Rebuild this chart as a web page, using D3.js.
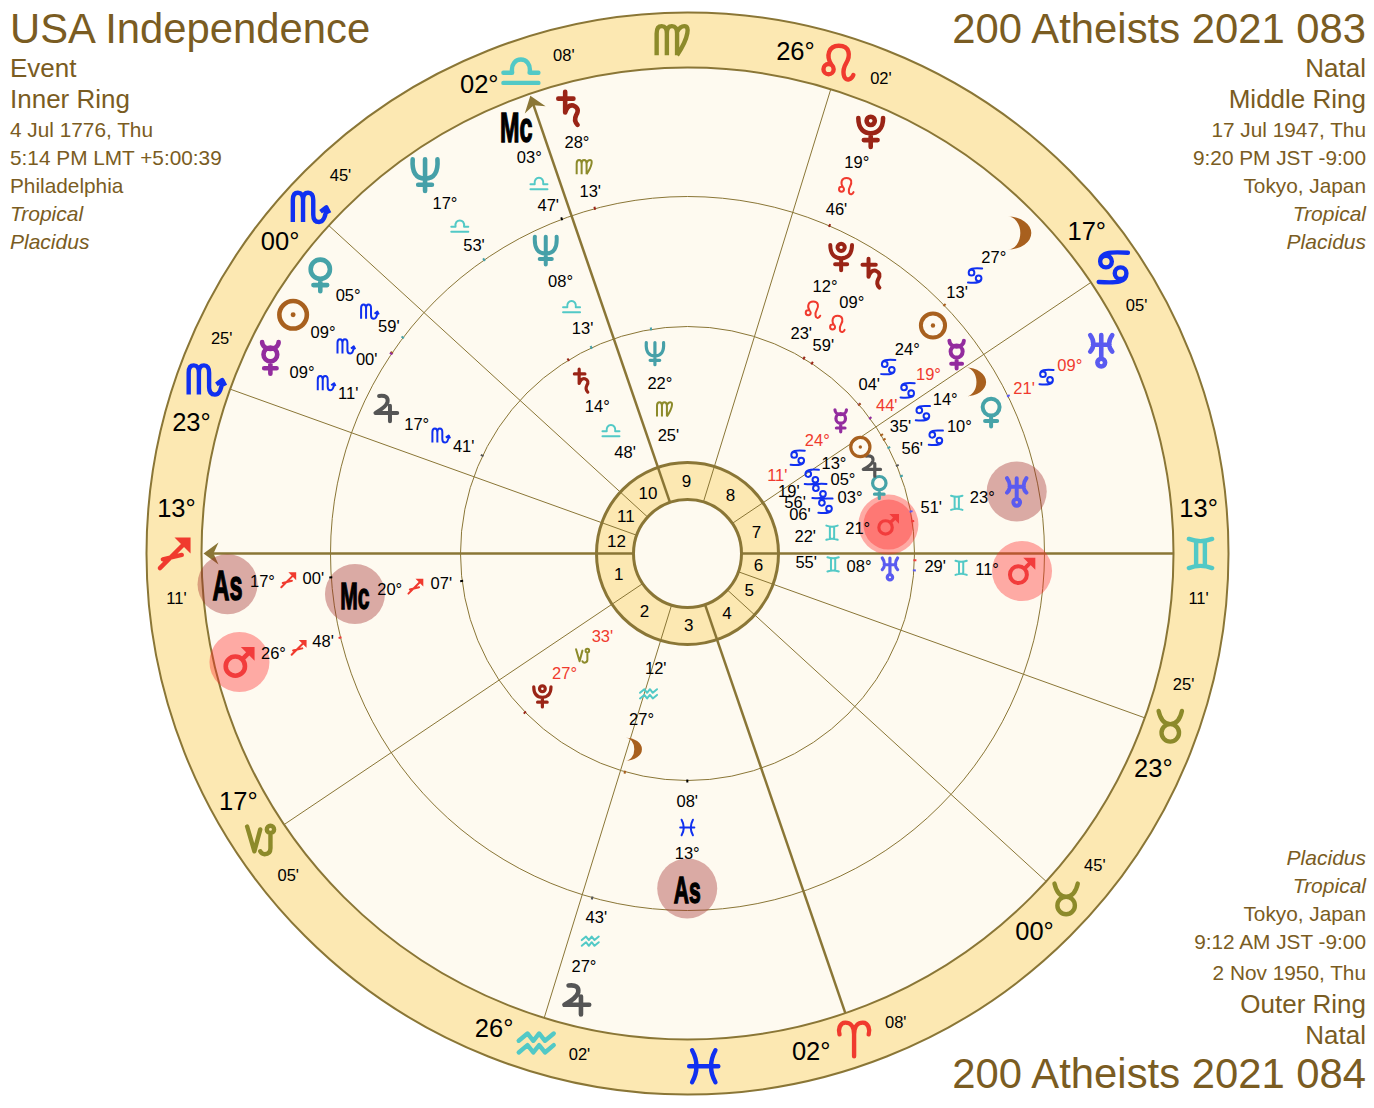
<!DOCTYPE html>
<html>
<head>
<meta charset="utf-8">
<script src="https://cdnjs.cloudflare.com/ajax/libs/d3/7.8.5/d3.min.js"></script>
<style>
  html, body { margin: 0; background: #fff; }
  text { font-family: "Liberation Sans", Arial, sans-serif; }
</style>
</head>
<body>
<div id="chart"></div>
<script>
const signNames = ["aries","taurus","gemini","cancer","leo","virgo","libra","scorpio","sagittarius","capricorn","aquarius","pisces"]

// house cusps 1..12
const cuspSigns = ["sagittarius","capricorn","aquarius","aries","taurus","taurus","gemini","cancer","leo","libra","scorpio","scorpio"]
const cuspDegrees = [13,17,26,2,0,23,13,17,26,2,0,23]
const cuspMinutes = [11,5,2,8,45,25,11,5,2,8,45,25]
const interceptedSigns = ["virgo","pisces"]

// inner ring - USA Independence
const innerBodies = ["mars","uranus","venus","jupiter","sun","mercury","neptune","saturn","pluto","moon"]
const innerSigns = ["gemini","gemini","cancer","cancer","cancer","cancer","virgo","libra","capricorn","aquarius"]
const innerDegrees = [21,8,3,5,13,24,22,14,27,27]
const innerMinutes = [22,55,6,56,19,11,25,48,33,12]
const innerRetro = ["mercury","pluto"]
const innerLit = ["mars"]

// middle ring - 083
const middleBodies = ["sun","mercury","moon","venus","uranus","mars","pluto","saturn","neptune","jupiter","Mc","As"]
const middleSigns = ["cancer","cancer","cancer","cancer","gemini","gemini","leo","leo","libra","scorpio","sagittarius","pisces"]
const middleDegrees = [24,19,14,10,23,11,12,9,8,17,20,13]
const middleMinutes = [4,44,35,56,51,29,23,59,13,41,7,8]
const middleRetro = ["mercury"]
const middleLit = ["uranus","mars","Mc","As"]

// outer ring - 084
const outerBodies = ["uranus","moon","pluto","saturn","Mc","neptune","venus","sun","mercury","As","mars","jupiter"]
const outerSigns = ["cancer","cancer","leo","virgo","libra","libra","scorpio","scorpio","scorpio","sagittarius","sagittarius","aquarius"]
const outerDegrees = [9,27,19,28,3,17,5,9,9,17,26,27]
const outerMinutes = [21,13,46,13,47,53,59,0,11,0,48,43]
const outerRetro = ["uranus"]
const outerLit = ["As","mars"]

const WIDTH = 1374, HEIGHT = 1108
const CX = 687.5, CY = 553.5
const INK = "#8a7636", BAND = "#fce8b2", PAPER = "#fefaf0", HEAD = "#7a5c22"
const RED = "#f03a2e"

// glyph pushes (degrees) so crowded bodies don't overlap
const innerPush = {venus:-0.8, jupiter:2.6, sun:1.5, moon:0.5}
const middlePush = {sun:2, moon:-0.6, venus:-2.75, mars:-1.3, pluto:3.5}
const outerPush = {Mc:1.2, sun:3, mercury:8.8, jupiter:1.4}

const rings = [
    {bodies:innerBodies, signs:innerSigns, degs:innerDegrees, mins:innerMinutes, retro:innerRetro, lit:innerLit, push:innerPush,
     tick:227, glyph:203, deg:172, sign:146, min:119, size:23, sw:3.2, label:27},
    {bodies:middleBodies, signs:middleSigns, degs:middleDegrees, mins:middleMinutes, retro:middleRetro, lit:middleLit, push:middlePush,
     tick:227, glyph:335, deg:300, sign:274, min:248, size:29, sw:4, label:27},
    {bodies:outerBodies, signs:outerSigns, degs:outerDegrees, mins:outerMinutes, retro:outerRetro, lit:outerLit, push:outerPush,
     tick:357, glyph:461, deg:426, sign:400, min:375, size:33, sw:4.6, label:30}
]

const signColor = s => {
    const i = signNames.indexOf(s) % 4
    return [RED, "#8c8a2a", "#52c9c6", "#1030f0"][i]
}
const bodyColor = {sun:"#a8601e", moon:"#a8601e", mercury:"#932c9e", venus:"#46a3a8", mars:"#f23c3c",
    jupiter:"#555555", saturn:"#9a2416", uranus:"#5a5af0", neptune:"#46a0a8", pluto:"#9a2416", Mc:"#000", As:"#000"}

const ring = (x, y, r) => `M${x-r} ${y}A${r} ${r} 0 1 0 ${x+r} ${y}A${r} ${r} 0 1 0 ${x-r} ${y}Z`

// stroked outlines in a 24x24 box, f = filled part
const glyphs = {
    sun: {s:ring(0,0,10), f:ring(0,0,1.8)},
    moon: {f:"M-8 -12A17 12 0 0 1 -8 12A9 12 0 0 0 -8 -12Z"},
    mercury: {s:ring(0,-2,5)+"M0 3V12M-4.5 8H4.5M-6 -11A6 5 0 0 0 6 -11"},
    venus: {s:ring(0,-4,7)+"M0 3V12M-5 7.5H5"},
    mars: {s:ring(-3,3,7)+"M2 -2L8 -8", f:"M1 -11H11V-1Z"},
    jupiter: {s:"M-5 -11Q3 -12 2 -6Q1 -2 -8 3H10M4 -3V10"},
    saturn: {s:"M-7 -7H4M-2 -12V3Q0 -3 4 -2Q9 0 6 5Q4 9 7 12"},
    uranus: {s:"M0 -11V6M-8 -11C-5 -7 -5 -2 -8 1M8 -11C5 -7 5 -2 8 1M-6 -4H6"+ring(0,9,2.8)},
    neptune: {s:"M-9 -11Q-10 3 0 3Q10 3 9 -11M0 -11V12M-5 7.5H5"},
    pluto: {s:ring(0,-7,3)+"M-9 -9C-9 0 -4 2 0 2C4 2 9 0 9 -9M0 2V12M-5 7H5"},
    aries: {s:"M0 12V-3C0 -9 -3 -11 -6 -11C-10 -11 -11 -6 -10 -3M0 -3C0 -9 3 -11 6 -11C10 -11 11 -6 10 -3"},
    taurus: {s:ring(0,4,6)+"M-8 -11Q-6 -2 0 -2Q6 -2 8 -11"},
    gemini: {s:"M-8 -10Q0 -7 8 -10M-8 10Q0 7 8 10M-3 -8V8M3 -8V8"},
    cancer: {s:ring(-5,-4,4)+"M-9 -4C-9 -10 -3 -11 10 -10"+ring(5,4,4)+"M9 4C9 10 3 11 -10 10"},
    leo: {s:ring(-7,4,3.5)+"M-5 1C-9 -5 -7 -12 0 -12C8 -12 8 -5 5 0C2 5 3 12 7 11Q9 10.5 10 8"},
    virgo: {s:"M-10 10V-5Q-10 -10 -6.5 -10Q-3 -10 -3 -5V10M-3 -5Q-3 -10 .5 -10Q4 -10 4 -5V10M4 -6Q6 -10 9 -10Q12 -10 11 -5Q10 1 4 10", butt:true},
    libra: {s:"M-12 10H12M-12 3H-6C-8 -9 8 -9 6 3H12"},
    scorpio: {s:"M-11 10V-5Q-11 -10 -7.5 -10Q-4 -10 -4 -5V10M-4 -5Q-4 -10 -.5 -10Q3 -10 3 -5V5Q3 10 7 10Q11 10 12 1M8 3L12 0L14 4", butt:true},
    sagittarius: {s:"M-10 10L6 -6M-8 4L5 1", f:"M0 -11H11V0Z"},
    capricorn: {s:"M-10 -9L-5 8L-1 -7"+ring(6,-7,2.5)+"M6 -4.5V6Q6 10 2 10Q0 10 -1 8"},
    aquarius: {s:"M-12 -2L-6 -7L-2 -2L2 -7L6 -2L12 -7M-12 6L-6 1L-2 6L2 1L6 6L12 1"},
    pisces: {s:"M-8 -11Q-2 0 -8 11M8 -11Q2 0 8 11M-10 0H10"}
}

const longitude = (sign, deg, min) => signNames.indexOf(sign) * 30 + deg + min / 60
const ascLon = longitude(cuspSigns[0], cuspDegrees[0], cuspMinutes[0])

// longitude runs counter clockwise with the ascendant on the left
const angle = d3.scaleLinear().domain([ascLon, ascLon + 360]).range([180, 540])
const theta = lon => angle(lon < ascLon ? lon + 360 : lon)
const polar = (t, r) => [CX + r * Math.cos(t * Math.PI / 180), CY - r * Math.sin(t * Math.PI / 180)]

const svg = d3.select("#chart").append("svg").attr("width", WIDTH).attr("height", HEIGHT)
    .style("display", "block")

function addGlyph(parent, name, t, r, size, sw, color) {
    const [x, y] = polar(t, r)
    const k = size / 24
    const g = parent.append("g").attr("transform", `translate(${x},${y}) scale(${k})`)
    const def = glyphs[name]
    if (def.s) g.append("path").attr("d", def.s).attr("fill", "none").attr("stroke", color)
        .attr("stroke-width", sw / k).attr("stroke-linecap", def.butt ? "butt" : "round").attr("stroke-linejoin", "round")
    if (def.f) g.append("path").attr("d", def.f).attr("fill", color)
}

function addText(parent, str, t, r, size, color) {
    const [x, y] = polar(t, r)
    parent.append("text").attr("x", x).attr("y", y).attr("dy", "0.33em")
        .attr("text-anchor", "middle").attr("font-size", size).attr("fill", color).text(str)
}

const pad = n => String(n).padStart(2, "0")

// wheel background
const wheel = svg.append("g")
const disc = (r, fill, sw) => wheel.append("circle").attr("cx", CX).attr("cy", CY).attr("r", r)
    .attr("fill", fill).attr("stroke", sw ? INK : "none").attr("stroke-width", sw)
disc(541, BAND, 2)
disc(486, PAPER, 2)
disc(357, "none", 1)
disc(227, "none", 1)
disc(91, BAND, 0)

const cuspAngles = cuspSigns.map((s, i) => theta(longitude(s, cuspDegrees[i], cuspMinutes[i])))

// cusp lines, the angles drawn heavier
cuspAngles.forEach((t, i) => {
    const heavy = i % 3 === 0
    const [x1, y1] = polar(t, 54), [x2, y2] = polar(t, i === 0 || i === 9 ? 476 : 486)
    wheel.append("line").attr("x1", x1).attr("y1", y1).attr("x2", x2).attr("y2", y2)
        .attr("stroke", INK).attr("stroke-width", heavy ? 2.5 : 1)
})

disc(91, "none", 3)
disc(54, PAPER, 3)

// arrow heads for As and Mc
;[0, 9].forEach(i => {
    wheel.append("path").attr("d", "M484 0L469 -11L474 0L469 11Z").attr("fill", INK)
        .attr("transform", `translate(${CX},${CY}) rotate(${-cuspAngles[i]})`)
})

// house numbers
cuspAngles.forEach((t, i) => {
    let next = cuspAngles[(i + 1) % 12]
    if (next < t) next += 360
    addText(wheel, i + 1, (t + next) / 2, 72, 17, "#000")
})

// zodiac band labels
const band = svg.append("g")
cuspSigns.forEach((s, i) => {
    const t = cuspAngles[i]
    const side = i < 6 ? -5 : 5
    addGlyph(band, s, t, 513, 35, 4.4, signColor(s))
    addText(band, pad(cuspDegrees[i]) + "°", t + side, 513, 25.5, "#000")
    addText(band, pad(cuspMinutes[i]) + "'", t - side, 513, 16.5, "#000")
})
interceptedSigns.forEach(s => addGlyph(band, s, theta(signNames.indexOf(s) * 30 + 15), 513, 35, 4.4, signColor(s)))

// halos go under the labels
const halos = svg.append("g")
const marks = svg.append("g")
const haloColor = {mars:"rgba(255,40,40,0.38)", uranus:"rgba(160,40,40,0.38)", Mc:"rgba(160,40,40,0.38)", As:"rgba(160,40,40,0.38)"}

rings.forEach((rg, ringIndex) => {
    rg.bodies.forEach((b, i) => {
        const lon = longitude(rg.signs[i], rg.degs[i], rg.mins[i])
        const t = theta(lon)
        const shown = t + (rg.push[b] || 0)
        const color = bodyColor[b]
        const label = rg.retro.includes(b) ? RED : "#000"

        const [tx1, ty1] = polar(t, rg.tick - 1), [tx2, ty2] = polar(t, rg.tick + 2)
        marks.append("line").attr("x1", tx1).attr("y1", ty1).attr("x2", tx2).attr("y2", ty2)
            .attr("stroke", color).attr("stroke-width", 2)

        const [gx, gy] = polar(shown, rg.glyph)
        if (rg.lit.includes(b)) {
            halos.append("circle").attr("cx", gx).attr("cy", gy).attr("r", 30).attr("fill", haloColor[b])
            if (b === "mars" && ringIndex === 0)
                halos.append("circle").attr("cx", gx).attr("cy", gy).attr("r", 25).attr("fill", haloColor[b])
        }
        if (b === "Mc" || b === "As") {
            marks.append("text").attr("transform", `translate(${gx},${gy + 1}) scale(0.78,1.4)`)
                .attr("dy", "0.36em").attr("text-anchor", "middle").attr("font-size", rg.label)
                .attr("font-weight", "bold").attr("fill", "#000").attr("stroke", "#000").attr("stroke-width", 1)
                .text(b)
        } else {
            addGlyph(marks, b, shown, rg.glyph, rg.size, rg.sw, color)
        }
        addText(marks, pad(rg.degs[i]) + "°", shown, rg.deg, 16.5, label)
        addGlyph(marks, rg.signs[i], shown, rg.sign, 17, 2, signColor(rg.signs[i]))
        addText(marks, pad(rg.mins[i]) + "'", shown, rg.min, 16.5, label)
    })
})

// corner captions
const caption = (x, y, anchor, size, str, italic) => svg.append("text")
    .attr("x", x).attr("y", y).attr("text-anchor", anchor).attr("font-size", size)
    .attr("font-style", italic ? "italic" : null).attr("fill", HEAD).text(str)

caption(10, 43, "start", 41.8, "USA Independence")
caption(10, 77, "start", 26, "Event")
caption(10, 108, "start", 26, "Inner Ring")
caption(10, 137, "start", 20.8, "4 Jul 1776, Thu")
caption(10, 165, "start", 20.8, "5:14 PM LMT +5:00:39")
caption(10, 193, "start", 20.8, "Philadelphia")
caption(10, 221, "start", 21, "Tropical", true)
caption(10, 249, "start", 21, "Placidus", true)

caption(1366, 43, "end", 41.8, "200 Atheists 2021 083")
caption(1366, 77, "end", 26, "Natal")
caption(1366, 108, "end", 26, "Middle Ring")
caption(1366, 137, "end", 20.8, "17 Jul 1947, Thu")
caption(1366, 165, "end", 20.8, "9:20 PM JST -9:00")
caption(1366, 193, "end", 20.8, "Tokyo, Japan")
caption(1366, 221, "end", 21, "Tropical", true)
caption(1366, 249, "end", 21, "Placidus", true)

caption(1366, 865, "end", 21, "Placidus", true)
caption(1366, 893, "end", 21, "Tropical", true)
caption(1366, 921, "end", 20.8, "Tokyo, Japan")
caption(1366, 949, "end", 20.8, "9:12 AM JST -9:00")
caption(1366, 980, "end", 20.8, "2 Nov 1950, Thu")
caption(1366, 1013, "end", 26, "Outer Ring")
caption(1366, 1044, "end", 26, "Natal")
caption(1366, 1088, "end", 41.8, "200 Atheists 2021 084")
</script>
</body>
</html>
